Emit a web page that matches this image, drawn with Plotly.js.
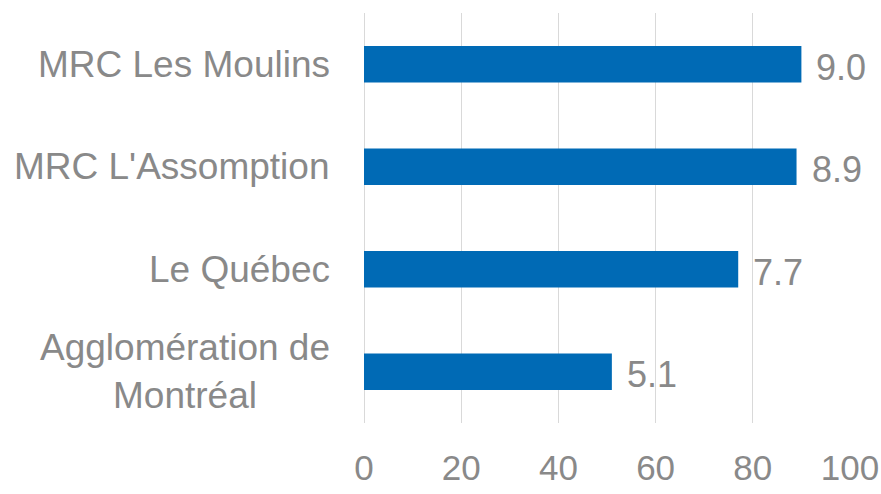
<!DOCTYPE html>
<html>
<head>
<meta charset="utf-8">
<script src="https://cdn.plot.ly/plotly-3.0.1.min.js"></script>
<style>
  html, body { margin: 0; padding: 0; background: #ffffff; }
  #chart { width: 881px; height: 494px; }
</style>
</head>
<body>
<div id="chart"></div>
<script>
// Data
const categories = ["MRC Les Moulins", "MRC L'Assomption", "Le Québec", "Agglomération de<br>Montréal"];
const barValues = [90, 89, 77, 51];
const valueLabels = ["9.0", "8.9", "7.7", "5.1"];
const xTickValues = [0, 20, 40, 60, 80, 100];
const xTickLabels = ["0", "20", "40", "60", "80", "100"];

const textColor = "#898989";
const barColor = "#006AB5";
const fontFamily = "Liberation Sans, Arial, sans-serif";

const trace = {
  type: "bar",
  orientation: "h",
  y: categories,
  x: barValues,
  marker: { color: barColor },
  hoverinfo: "none"
};

const annotations = [];
categories.forEach((c, i) => {
  annotations.push({
    xref: "paper", yref: "y",
    x: 0, y: c,
    xanchor: "right", yanchor: "middle",
    xshift: -32,
    text: c,
    align: "center",
    showarrow: false,
    font: { family: fontFamily, size: 37, color: textColor }
  });
  annotations.push({
    xref: "x", yref: "y",
    x: barValues[i], y: c,
    xanchor: "left", yanchor: "middle",
    xshift: 13, yshift: -3,
    text: valueLabels[i],
    showarrow: false,
    font: { family: fontFamily, size: 36, color: textColor }
  });
});

const layout = {
  width: 881,
  height: 494,
  margin: { l: 364, r: 31, t: 13, b: 71, pad: 0 },
  paper_bgcolor: "#ffffff",
  plot_bgcolor: "#ffffff",
  showlegend: false,
  bargap: 0.645,
  font: { family: fontFamily, color: textColor },
  xaxis: {
    range: [0, 100],
    tickvals: xTickValues,
    ticktext: xTickLabels,
    showgrid: true,
    gridcolor: "#D9D9D9",
    gridwidth: 1,
    zeroline: true,
    zerolinecolor: "#D9D9D9",
    zerolinewidth: 1,
    showline: false,
    ticks: "outside",
    ticklen: 14,
    tickcolor: "rgba(0,0,0,0)",
    tickfont: { family: fontFamily, size: 35, color: textColor },
    fixedrange: true
  },
  yaxis: {
    type: "category",
    autorange: "reversed",
    showticklabels: false,
    showgrid: false,
    zeroline: false,
    showline: false,
    ticks: "",
    fixedrange: true
  },
  annotations: annotations
};

Plotly.newPlot("chart", [trace], layout, { staticPlot: true, displayModeBar: false });
</script>
</body>
</html>
